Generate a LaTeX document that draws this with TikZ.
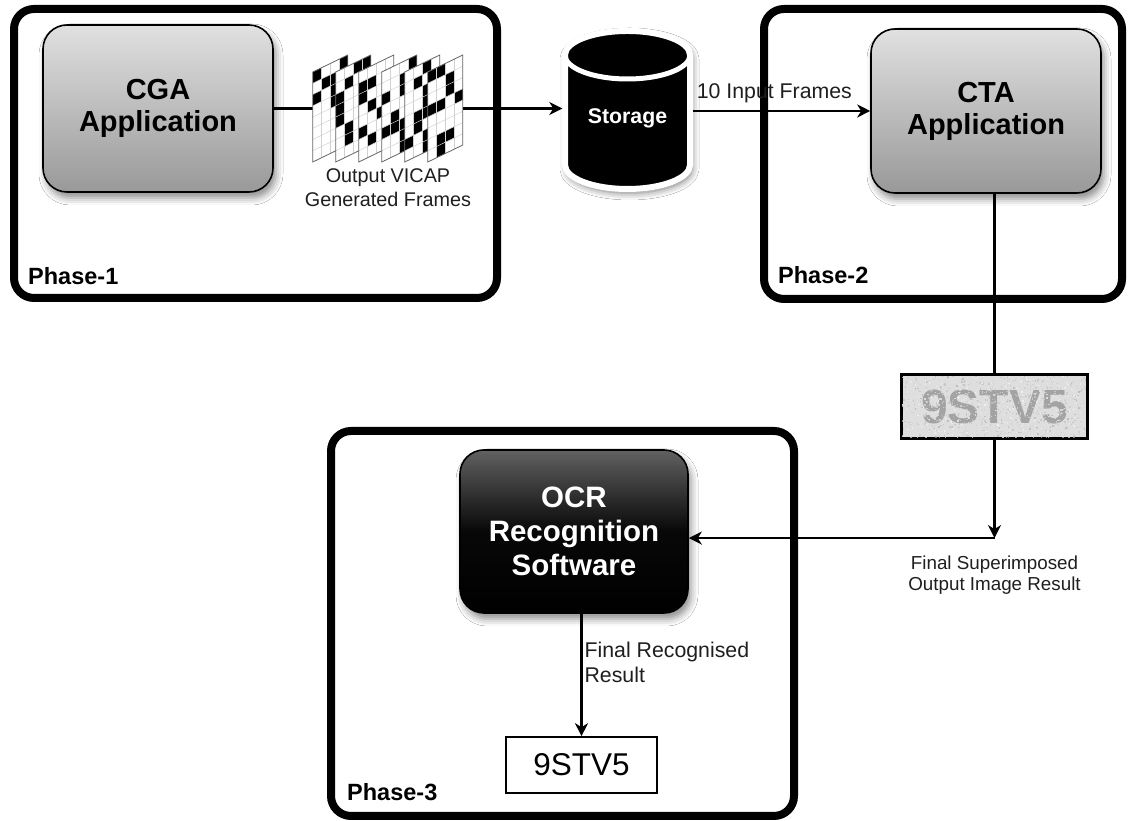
\documentclass[tikz,border=0pt]{standalone}
\usepackage{fontspec}
\setmainfont{Liberation Sans}
\usetikzlibrary{positioning,calc,arrows.meta,shadows.blur}

\tikzset{
  phasebox/.style={draw, line width=8pt, rounded corners=20pt, inner sep=0pt, outer sep=0pt},
  phaselbl/.style={font=\fontsize{23.5}{28}\selectfont\bfseries, anchor=west, inner sep=0pt},
  appbox/.style={draw, line width=1.6pt, rounded corners=24pt, align=center,
    top color=black!12, bottom color=black!40,
    blur shadow={shadow xshift=3pt, shadow yshift=-6pt, shadow blur radius=7pt, shadow opacity=45},
    font=\fontsize{29}{32}\selectfont\bfseries},
  lbl/.style={font=\fontsize{19.8}{24}\selectfont, align=center, inner sep=0pt, text=black!88},
  wire/.style={line width=2.2pt}
}

\begin{document}
\begin{tikzpicture}[x=1pt, y=1pt, >={Stealth[length=13pt,width=13pt,inset=4pt]}]
\useasboundingbox[fill=white] (0,0) rectangle (1128,821);

% the three phases
\node[phasebox, minimum width=483pt, minimum height=289pt] (ph1) at (255.5,667.5) {};
\node[phasebox, minimum width=358pt, minimum height=290pt] (ph2) at (943,667) {};
\node[phasebox, minimum width=463pt, minimum height=385pt] (ph3) at (562.5,197.5) {};
\node[phaselbl] (ph1lbl) at ($(ph1.south west)+(14,22)$) {Phase-1};
\node[phaselbl] (ph2lbl) at ($(ph2.south west)+(14,24)$) {Phase-2};
\node[phaselbl] (ph3lbl) at ($(ph3.south west)+(16,24)$) {Phase-3};

% applications
\node[appbox, minimum width=230pt, minimum height=167pt] (cga) at (158,712.5) {CGA\\Application};
\node[appbox, minimum width=230pt, minimum height=164pt] (cta) at (986,710) {CTA\\Application};
\node[appbox, minimum width=228pt, minimum height=163pt, text=white,
  top color=black!62, bottom color=black, middle color=black!97,
  font=\fontsize{29.5}{34}\selectfont\bfseries] (ocr) at (574,289.5) {OCR\\Recognition\\Software};

% storage drum
\coordinate (storec) at (627.5,703);
\begin{scope}[shift={(storec)}]
  \filldraw[draw=white, fill=black, line width=6pt,
    blur shadow={shadow xshift=2pt, shadow yshift=-4pt, shadow blur radius=7pt, shadow opacity=55}]
    (-62.5,63) -- (-62.5,-47) arc[start angle=180, end angle=360, x radius=62.5, y radius=24]
    -- (62.5,63) arc[start angle=0, end angle=180, x radius=62.5, y radius=24] -- cycle;
  \draw[white, line width=5pt] (-62.5,63) arc[start angle=180, end angle=360, x radius=62.5, y radius=24];
\end{scope}
\node[minimum width=130pt, minimum height=160pt, text=white,
  font=\fontsize{21.3}{25}\selectfont\bfseries] (store) at (storec) {Storage};

% stack of generated frames
\node[minimum width=150pt, minimum height=107pt, inner sep=0pt] (frames) at (388,712.5) {};
\node[lbl, below=6pt of frames] (frameslbl) {Output VICAP\\Generated Frames};

% images
\node[draw, line width=2.2pt, fill=black!13, minimum width=185pt, minimum height=63pt,
  text=black!36, font=\fontsize{48}{56}\selectfont\bfseries, inner sep=0pt] (noisy) at (994.5,414.5) {9STV5};
\node[draw, line width=1.6pt, minimum width=151pt, minimum height=56pt,
  font=\fontsize{31.5}{36}\selectfont] (result) at (581.5,56) {9STV5};

% connectors
\draw[wire] (cga) -- (frames);
\draw[wire,->] (frames) -- (frames -| store.west);
\draw[wire,->] (store.east |- cta.west) -- node[lbl, above=7pt, pos=0.46,
  font=\fontsize{21.3}{25}\selectfont] {10 Input Frames} (cta.west);
\draw[wire] (cta.south -| noisy.north) -- (noisy.north);
\coordinate (bend) at ($(noisy.south)+(0,-99)$);
\draw[wire,->] (noisy.south) -- (bend);
\draw[wire,->] (bend) -- (ocr.east |- bend);
\node[lbl, font=\fontsize{18.8}{21}\selectfont, below=18pt of bend] (superlbl) {Final Superimposed\\Output Image Result};
\draw[wire,->] (ocr.south -| result.north) -- node[lbl, right=2pt, pos=0.4, align=left,
  font=\fontsize{21.3}{25}\selectfont] {Final Recognised\\Result} (result.north);

% frame contents
\pgfmathsetseed{4217}
\foreach \k in {0,...,5}{
  \begin{scope}[shift={($(frames.west)+(\k*23,-53.5)$)}, yslant=0.486]
    \fill[white] (0,0) rectangle (35,90);
    \foreach \i in {0,...,3}{
      \foreach \j in {0,...,7}{
        \pgfmathtruncatemacro\blk{rnd<0.38}
        \ifnum\blk=1 \fill[black] (\i*8.75,\j*11.25) rectangle ++(8.75,11.25);\fi
      }
    }
    \foreach \i in {1,2,3} \draw[black!18, line width=0.5pt] (\i*8.75,0) -- ++(0,90);
    \foreach \j in {1,...,7} \draw[black!18, line width=0.5pt] (0,\j*11.25) -- ++(35,0);
    \draw[black!60, line width=0.8pt] (0,0) rectangle (35,90);
  \end{scope}
}

% grain on the superimposed image
\begin{scope}[shift={(noisy.south west)}]
  \clip (0,0) rectangle (185,63);
  \foreach \n in {1,...,1100}{
    \pgfmathsetmacro\sx{185*rnd}
    \pgfmathsetmacro\sy{63*rnd}
    \pgfmathtruncatemacro\sg{3+28*rnd}
    \fill[black!\sg, opacity=0.7] (\sx,\sy) rectangle ++(1.4,1.4);
  }
\end{scope}
\draw[line width=2.2pt] (noisy.south west) rectangle (noisy.north east);

\end{tikzpicture}
\end{document}
